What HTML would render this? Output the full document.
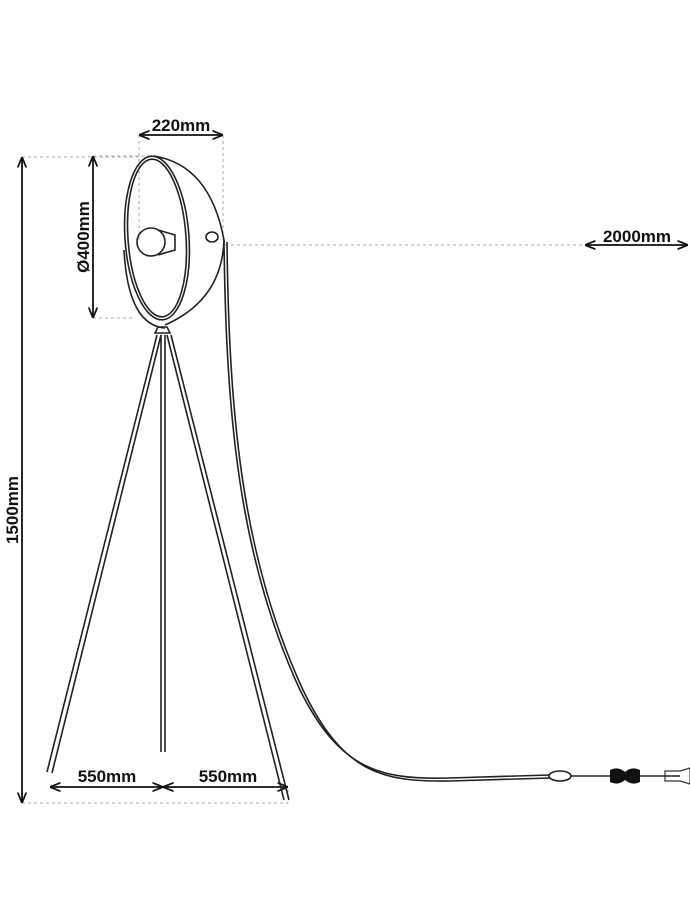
<!DOCTYPE html>
<html><head><style>body{margin:0;background:#fff}svg{display:block}text{font-family:"Liberation Sans",sans-serif;font-size:17px;font-weight:bold;fill:#111}</style></head><body>
<svg width="690" height="920" viewBox="0 0 690 920" xmlns="http://www.w3.org/2000/svg">
<defs><marker id="a" viewBox="0 0 10 10" refX="9" refY="5" markerWidth="6" markerHeight="6" orient="auto-start-reverse"><path d="M0,1 L10,5 L0,9" fill="none" stroke="#111" stroke-width="1.6"/></marker></defs>
<g stroke="#aaa" stroke-width="1" stroke-dasharray="3,3" fill="none">
<path d="M22 157H140M22 803H288M139 135V240M223 135V240M93 156H155M93 318H135M225 245H685M288 790V803"/>
</g>
<g stroke="#111" stroke-width="1.8" fill="none" marker-start="url(#a)" marker-end="url(#a)">
<path d="M22 158V802"/><path d="M140 135H222"/><path d="M93 157V317"/><path d="M586 245H687"/><path d="M51 787H162"/><path d="M164 787H287"/>
</g>
<text x="181" y="131" text-anchor="middle">220mm</text>
<text x="637" y="242" text-anchor="middle">2000mm</text>
<text x="107" y="782" text-anchor="middle">550mm</text>
<text x="228" y="782" text-anchor="middle">550mm</text>
<text transform="translate(18,510) rotate(-90)" text-anchor="middle">1500mm</text>
<text transform="translate(89,237) rotate(-90)" text-anchor="middle">Ø400mm</text>
<g stroke="#222" stroke-width="1.6" fill="none">
<ellipse cx="157" cy="238" rx="32" ry="82" transform="rotate(-4 157 238)"/>
<ellipse cx="157" cy="238" rx="29" ry="79" transform="rotate(-4 157 238)"/>
<path d="M154 156 Q210 165 224 240 Q222 300 165 325"/>
<path d="M124 250 Q128 325 165 328"/>
<circle cx="151" cy="242" r="14"/>
<path d="M158 230 L175 235 L175 250 L158 255"/>
<ellipse cx="212" cy="237" rx="6" ry="5"/>
<path d="M155 333 L170 333 L167 327 L158 327Z"/>
<path d="M157 335 L47 772 M161 335 L52 773"/>
<path d="M161 335 V752 M165 335 V752"/>
<path d="M167 335 L284 800 M171 335 L289 800"/>
<path d="M224 240 C226 420 240 560 300 690 C340 770 380 780 450 778 L550 775"/>
<path d="M227 242 C229 420 243 560 303 690 C343 773 382 782 450 781 L550 778"/>
<ellipse cx="560" cy="776" rx="11" ry="5"/>
<path d="M571 776 H610 M640 776 H680"/>
</g>
<path d="M610 770 Q618 766 625 772 Q632 766 640 770 V782 Q632 786 625 780 Q618 786 610 782Z" fill="#111"/>
<path d="M665 771 H680 L690 768 V784 L680 781 H665Z" fill="none" stroke="#333" stroke-width="1.2"/>
</svg>
</body></html>
